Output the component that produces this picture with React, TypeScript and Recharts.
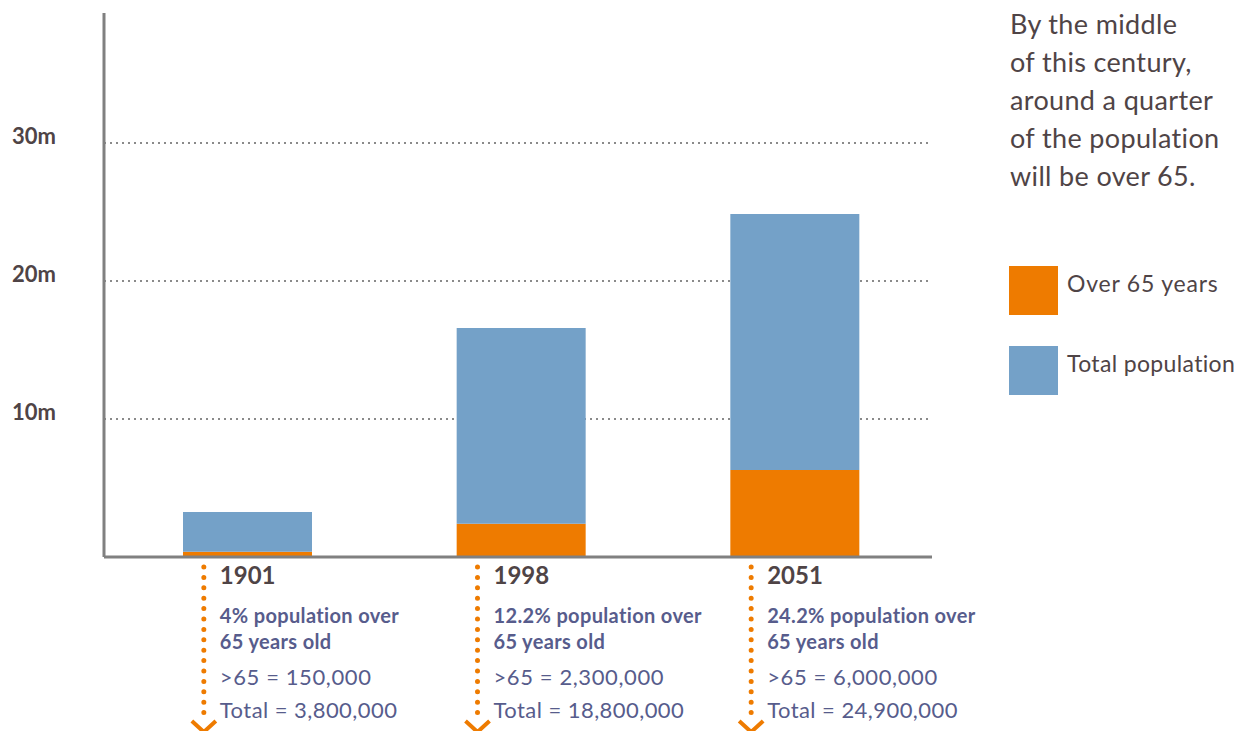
import React from 'react';
import { BarChart, Bar, XAxis, YAxis, CartesianGrid } from 'recharts';

const ORANGE = '#EE7B00';
const BLUE = '#74A1C8';
const DARK = '#4f4446';
const SLATE = '#575c8c';
const AXIS = '#808080';
const FONT = 'Lato, "Open Sans", sans-serif';

const years = ['1901', '1998', '2051'];
const over65Millions = [0.38, 2.41, 6.3];
const totalMillions = [3.26, 16.6, 24.86];
const yTicks = [10, 20, 30];
const Y_MAX = 39.42;
const shareLines = ['4% population over', '12.2% population over', '24.2% population over'];
const shareLines2 = ['65 years old', '65 years old', '65 years old'];
const over65Text = ['>65 = 150,000', '>65 = 2,300,000', '>65 = 6,000,000'];
const totalText = ['Total = 3,800,000', 'Total = 18,800,000', 'Total = 24,900,000'];
const noteLines = ['By the middle', 'of this century,', 'around a quarter', 'of the population', 'will be over 65.'];
const legendLabels = ['Over 65 years', 'Total population'];
const legendColors = [ORANGE, BLUE];

const data = years.map((year, i) => ({
  year,
  over65: over65Millions[i],
  rest: totalMillions[i] - over65Millions[i],
}));

const YTick = (props: any) => {
  const { y, payload } = props;
  return (
    <text x={48} y={y + 1} textAnchor="end" fontFamily={FONT} fontWeight={700} fontSize={22} fill={DARK}>
      {payload.value}m
    </text>
  );
};

const XTick = (props: any) => {
  const { x, y, index } = props;
  const dotX = x - 44;
  const tx = dotX + 16;
  return (
    <g>
      <line
        x1={dotX}
        x2={dotX}
        y1={y + 10}
        y2={y + 160}
        stroke={ORANGE}
        strokeWidth={5}
        strokeLinecap="round"
        strokeDasharray="0 10.4"
      />
      <polyline
        points={`${dotX - 12},${y + 164} ${dotX},${y + 175} ${dotX + 12},${y + 164}`}
        fill="none"
        stroke={ORANGE}
        strokeWidth={4}
      />
      <text x={tx} y={y + 27} fontFamily={FONT} fontWeight={700} fontSize={24} fill={DARK}>
        {years[index]}
      </text>
      <text x={tx} y={y + 66} fontFamily={FONT} fontWeight={700} fontSize={20} letterSpacing={0.35} fill={SLATE}>
        {shareLines[index]}
      </text>
      <text x={tx} y={y + 92} fontFamily={FONT} fontWeight={700} fontSize={20} letterSpacing={0.35} fill={SLATE}>
        {shareLines2[index]}
      </text>
      <text x={tx} y={y + 128} fontFamily={FONT} fontWeight={400} fontSize={22} letterSpacing={0.6} fill={SLATE}>
        {over65Text[index]}
      </text>
      <text x={tx} y={y + 161} fontFamily={FONT} fontWeight={400} fontSize={22} letterSpacing={0.45} fill={SLATE}>
        {totalText[index]}
      </text>
    </g>
  );
};

const gridGen = (props: any) => {
  const { yAxis, offset } = props || {};
  if (yAxis && typeof yAxis.scale === 'function') {
    return yTicks.map((t) => yAxis.scale(t));
  }
  const top = offset?.top ?? 5;
  const h = offset?.height ?? 544;
  return yTicks.map((t) => top + h * (1 - t / Y_MAX));
};

export default function App() {
  return (
    <div style={{ position: 'relative', width: 1236, height: 723, fontFamily: FONT }}>
      <BarChart
        width={1236}
        height={723}
        data={data}
        margin={{ top: 5, right: 312, bottom: 0, left: 6 }}
        barSize={129}
      >
        <CartesianGrid
          vertical={false}
          stroke="#8a8a8a"
          strokeWidth={2}
          strokeDasharray="2 4"
          horizontalCoordinatesGenerator={gridGen}
        />
        <XAxis
          dataKey="year"
          height={174}
          padding={{ left: 7, right: 0 }}
          axisLine={{ stroke: AXIS, strokeWidth: 3 }}
          tickLine={false}
          tickSize={0}
          tickMargin={0}
          interval={0}
          tick={(p: any) => <XTick {...p} />}
        />
        <YAxis
          width={90}
          domain={[0, Y_MAX]}
          ticks={yTicks}
          axisLine={{ stroke: AXIS, strokeWidth: 3 }}
          tickLine={false}
          tick={(p: any) => <YTick {...p} />}
        />
        <Bar dataKey="over65" stackId="a" fill={ORANGE} isAnimationActive={false} />
        <Bar dataKey="rest" stackId="a" fill={BLUE} isAnimationActive={false} />
      </BarChart>
      <div style={{ position: 'absolute', left: 1002, top: -3, color: DARK, fontSize: 27, lineHeight: '38px', letterSpacing: 0.35 }}>
        {noteLines.map((l) => (
          <div key={l} style={{ whiteSpace: 'nowrap' }}>{l}</div>
        ))}
      </div>
      {legendLabels.map((l, i) => (
        <div key={l} style={{ position: 'absolute', left: 1001, top: 258 + i * 80, display: 'flex', alignItems: 'center' }}>
          <div style={{ width: 49, height: 49, background: legendColors[i] }} />
          <div style={{ marginLeft: 9, fontSize: 23, color: DARK, whiteSpace: 'nowrap', marginTop: -16, letterSpacing: i === 0 ? 0.8 : 0.35 }}>{l}</div>
        </div>
      ))}
    </div>
  );
}
